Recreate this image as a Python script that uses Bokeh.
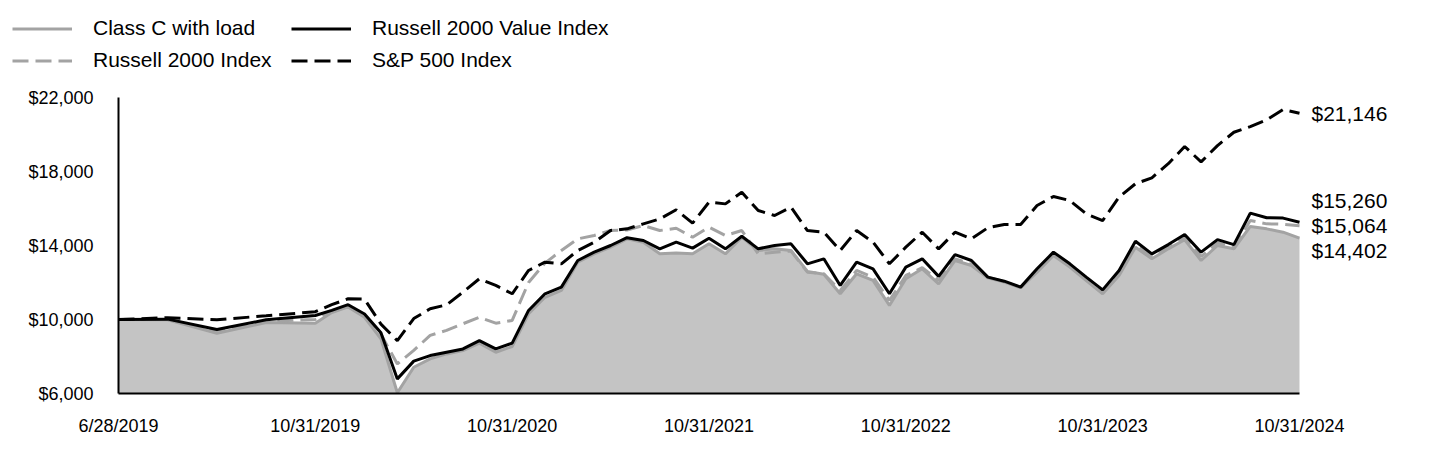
from bokeh.plotting import figure
from bokeh.models import (ColumnDataSource, FixedTicker, NumeralTickFormatter,
                          Legend, LegendItem, LabelSet, Range1d)
from bokeh.core.properties import value
from bokeh.embed import file_html
from bokeh.resources import INLINE

# ---------------- data ----------------
months = ["6/28/2019", "7/31/2019", "8/31/2019", "9/30/2019", "10/31/2019",
          "11/30/2019", "12/31/2019", "1/31/2020", "2/29/2020", "3/31/2020",
          "4/30/2020", "5/31/2020", "6/30/2020", "7/31/2020", "8/31/2020",
          "9/30/2020", "10/31/2020", "11/30/2020", "12/31/2020", "1/31/2021",
          "2/28/2021", "3/31/2021", "4/30/2021", "5/31/2021", "6/30/2021",
          "7/31/2021", "8/31/2021", "9/30/2021", "10/31/2021", "11/30/2021",
          "12/31/2021", "1/31/2022", "2/28/2022", "3/31/2022", "4/30/2022",
          "5/31/2022", "6/30/2022", "7/31/2022", "8/31/2022", "9/30/2022",
          "10/31/2022", "11/30/2022", "12/31/2022", "1/31/2023", "2/28/2023",
          "3/31/2023", "4/30/2023", "5/31/2023", "6/30/2023", "7/31/2023",
          "8/31/2023", "9/30/2023", "10/31/2023", "11/30/2023", "12/31/2023",
          "1/31/2024", "2/29/2024", "3/31/2024", "4/30/2024", "5/31/2024",
          "6/30/2024", "7/31/2024", "8/31/2024", "9/30/2024", "10/31/2024"]

class_c = [10000, 9980, 9260, 9840, 9800, 10380, 10680, 10120, 8960, 6040,
           7420, 7870, 8140, 8320, 8720, 8230, 8540, 10310, 11200, 11570,
           13100, 13550, 13910, 14360, 14180, 13550, 13600, 13550, 14090, 13550,
           14450, 13730, 13820, 13730, 12600, 12450, 11390, 12470, 12110, 10760,
           12200, 12740, 11930, 13190, 12920, 12250, 12020, 11720, 12560, 13460,
           12830, 12110, 11390, 12380, 13910, 13280, 13820, 14310, 13190, 14000,
           13820, 15030, 14900, 14720, 14402]

r2000_value = [10000, 10020, 9460, 9985, 10215, 10490, 10800, 10300, 9280, 6790,
               7750, 8050, 8230, 8410, 8860, 8410, 8720, 10490, 11390, 11750,
               13190, 13640, 14000, 14420, 14270, 13820, 14180, 13860, 14390, 13820,
               14500, 13820, 14000, 14090, 13010, 13280, 11840, 13100, 12740, 11390,
               12830, 13280, 12330, 13510, 13190, 12290, 12070, 11750, 12740, 13640,
               13010, 12290, 11600, 12650, 14230, 13550, 14050, 14590, 13640, 14320,
               14050, 15750, 15500, 15480, 15260]

r2000 = [10000, 10000, 9400, 9900, 10000, 10430, 10720, 10200, 9200, 7600,
         8330, 9140, 9410, 9770, 10120, 9800, 9950, 12000, 13050, 13730,
         14360, 14540, 14810, 14840, 15080, 14810, 14930, 14450, 14990, 14540,
         14810, 13550, 13640, 13700, 12560, 12470, 11570, 12650, 12290, 11030,
         12380, 12800, 12110, 13280, 13000, 12280, 12050, 11720, 12650, 13550,
         12920, 12200, 11500, 12500, 14050, 13400, 13950, 14450, 13400, 14150,
         13900, 15350, 15170, 15150, 15064]

sp500 = [10000, 10100, 9990, 10200, 10420, 10800, 11120, 11100, 9750, 8860,
         10050, 10580, 10790, 11480, 12200, 11840, 11390, 12650, 13100, 13010,
         13730, 14180, 14810, 14900, 15170, 15440, 15930, 15210, 16340, 16250,
         16880, 15890, 15620, 16070, 14810, 14720, 13730, 14810, 14180, 13010,
         13910, 14720, 13820, 14720, 14360, 14960, 15140, 15140, 16160, 16650,
         16430, 15710, 15350, 16620, 17340, 17660, 18420, 19350, 18520, 19400,
         20120, 20430, 20790, 21350, 21146]

tick_labels = ["6/28/2019", "10/31/2019", "10/31/2020", "10/31/2021",
               "10/31/2022", "10/31/2023", "10/31/2024"]
y_ticks = [6000, 10000, 14000, 18000, 22000]

# legend order (filled column by column: left column first)
legend_cols = ["class_c", "r2000", "r2000_value", "sp500"]
series_names = {"class_c": "Class C with load",
                "r2000_value": "Russell 2000 Value Index",
                "r2000": "Russell 2000 Index",
                "sp500": "S&P 500 Index"}

# The reference axis gives the first four months the same span as each later year
x = [3 * i if i <= 4 else 12 + (i - 4) for i in range(len(months))]
tick_pos = [x[months.index(t)] for t in tick_labels]

src = ColumnDataSource(dict(x=x, month=months, class_c=class_c, r2000_value=r2000_value,
                            r2000=r2000, sp500=sp500,
                            base=[y_ticks[0]] * len(x)))

FONT = "Liberation Sans"
GRAY_FILL = "#c4c4c4"
GRAY_LINE = "#a3a3a3"
DASH = "16 7"

styles = {"class_c": dict(line_color=GRAY_LINE, line_width=3),
          "r2000_value": dict(line_color="black", line_width=3),
          "r2000": dict(line_color=GRAY_LINE, line_width=3, line_dash=DASH),
          "sp500": dict(line_color="black", line_width=3, line_dash=DASH)}

# ---------------- layout ----------------
TOTAL_W = 1432
LEFT, RIGHT = 118, 8
DATA_W = 1181                    # pixels covered by the data span
FRAME_W = TOTAL_W - LEFT - RIGHT
x_end = x[0] + (x[-1] - x[0]) * FRAME_W / DATA_W   # room for end labels

# legend strip on top (its view window lies outside the data, so only the legend shows)
leg = figure(width=TOTAL_W, height=85, output_backend="svg", toolbar_location=None,
             x_range=Range1d(-2, -1), y_range=Range1d(0, 1),
             min_border=0, min_border_left=0, min_border_right=0,
             min_border_top=0, min_border_bottom=0)
leg.axis.visible = False
leg.grid.visible = False
leg.outline_line_color = None
leg_r = {c: leg.line(x="x", y=c, source=src, **styles[c]) for c in legend_cols}
legend = Legend(items=[LegendItem(label=series_names[c], renderers=[leg_r[c]])
                       for c in legend_cols],
                ncols=2, location=(12, 13), padding=0, margin=0,
                glyph_width=60, glyph_height=21, label_height=21, label_width=190,
                label_standoff=21, spacing=8,
                label_text_font=FONT, label_text_font_size="21px",
                label_text_color="black",
                border_line_alpha=0, background_fill_alpha=0)
leg.add_layout(legend, "center")

# main chart
p = figure(width=TOTAL_W, height=375, output_backend="svg", toolbar_location=None,
           x_range=Range1d(x[0], x_end), y_range=Range1d(y_ticks[0], y_ticks[-1]),
           min_border_left=LEFT, min_border_right=RIGHT, min_border_top=12,
           min_border_bottom=67)
p.outline_line_color = None
p.grid.visible = False

p.varea(x="x", y1="base", y2="class_c", source=src, fill_color=GRAY_FILL)
for c in ["class_c", "r2000", "r2000_value", "sp500"]:
    p.line(x="x", y=c, source=src, **styles[c])

# axes
p.xaxis.ticker = FixedTicker(ticks=tick_pos)
p.xaxis.major_label_overrides = {pos: lab for pos, lab in zip(tick_pos, tick_labels)}
p.xaxis.bounds = (x[0], x[-1])
p.yaxis.ticker = FixedTicker(ticks=y_ticks)
p.yaxis.formatter = NumeralTickFormatter(format="$0,0")
for ax in (p.xaxis[0], p.yaxis[0]):
    ax.axis_line_color = "black"
    ax.axis_line_width = 2
    ax.major_tick_line_color = None
    ax.minor_tick_line_color = None
    ax.major_tick_out = 0
    ax.major_tick_in = 0
    ax.major_label_text_font = FONT
    ax.major_label_text_font_size = "18px"
    ax.major_label_text_color = "black"
p.xaxis.major_label_standoff = 22
p.yaxis.major_label_standoff = 25

# end-of-line value labels (spread apart where they would overlap)
mid = r2000[-1]
gap = 1350
end_src = ColumnDataSource(dict(
    x=[x[-1]] * 4,
    y=[sp500[-1], mid + gap, mid, mid - gap],
    text=["${:,.0f}".format(v) for v in (sp500[-1], r2000_value[-1], r2000[-1], class_c[-1])]))
p.add_layout(LabelSet(x="x", y="y", text="text", source=end_src, x_offset=12,
                      text_font=value(FONT), text_font_size=value("21px"),
                      text_color="black", text_baseline="middle", text_align="left"))

open("out.html", "w").write(file_html([leg, p], INLINE))
